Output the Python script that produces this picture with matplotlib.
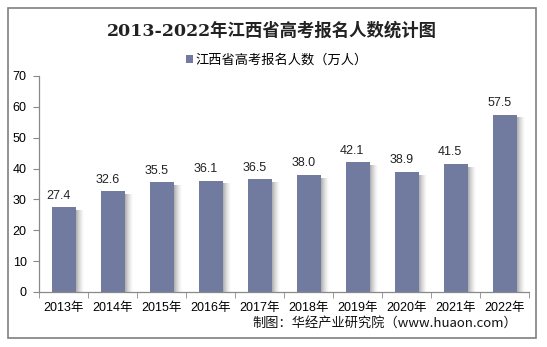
import matplotlib.pyplot as plt
import matplotlib.patches as mpatches
import numpy as np

plt.rcParams['font.family'] = ['Liberation Sans', 'Noto Sans CJK SC']

# 江西省高考报名人数（万人）
years = ['2013年', '2014年', '2015年', '2016年', '2017年',
         '2018年', '2019年', '2020年', '2021年', '2022年']
applicants = [27.4, 32.6, 35.5, 36.1, 36.5, 38.0, 42.1, 38.9, 41.5, 57.5]

bar_color = '#717ba0'
axis_color = '#898989'

fig = plt.figure(figsize=(5.47, 3.47), dpi=100)
ax = fig.add_axes([39.3 / 547, 1 - 292 / 347, 490 / 547, 216 / 347])

x = np.arange(len(years))
w = 0.49

# soft grey shadow on the right side of each bar
n_strips = 8
for k in range(n_strips):
    alpha = 0.45 * (1 - k / n_strips) ** 1.5
    ax.bar(x + w / 2 + (k + 0.5) * 0.021, np.array(applicants) - 0.9, width=0.021,
           color='#555555', alpha=alpha, linewidth=0, zorder=1)

ax.bar(x, applicants, width=w, color=bar_color, label='江西省高考报名人数（万人）', zorder=2)

for xi, v in zip(x, applicants):
    ax.annotate(f'{v:.1f}', (xi, v), xytext=(-4, 4), textcoords='offset points',
                ha='center', va='bottom', fontsize=9, color='#222222')

ax.set_xlim(-0.5, len(years) - 0.5)
ax.set_ylim(0, 70)
ax.set_yticks(range(0, 71, 10))
ax.set_xticks(x)
ax.set_xticklabels(years, fontsize=9)
ax.set_xticks(np.arange(-0.5, len(years)), minor=True)
ax.tick_params(axis='x', which='major', length=0, pad=7)
ax.tick_params(axis='x', which='minor', length=4, color=axis_color, direction='out')
ax.tick_params(axis='y', length=4, color=axis_color, labelsize=9, pad=5)

for side in ['top', 'right']:
    ax.spines[side].set_visible(False)
for side in ['left', 'bottom']:
    ax.spines[side].set_color(axis_color)
    ax.spines[side].set_linewidth(0.9)

fig.text(271.5 / 547, 1 - 31 / 347, '2013-2022年江西省高考报名人数统计图',
         ha='center', va='center', fontsize=12.5, fontweight='bold',
         family=['DejaVu Serif', 'Noto Sans CJK SC'], color='#222222')

ax.legend(loc='center', bbox_to_anchor=(277 / 547, 1 - 60 / 347),
          bbox_transform=fig.transFigure, frameon=False, fontsize=9.5,
          handlelength=0.55, handleheight=0.55, handletextpad=0.2,
          prop={'family': ['Noto Sans CJK SC'], 'size': 9.5})

fig.text(517 / 547, 1 - 323 / 347, '制图：华经产业研究院（www.huaon.com）',
         ha='right', va='center', fontsize=9.5,
         family=['Noto Sans CJK SC'], color='#111111')

# outer frame
fig.patches.append(mpatches.Rectangle((8 / 547, 1 - 338 / 347), 528 / 547, 330 / 347,
                                      transform=fig.transFigure, fill=False,
                                      edgecolor='#7f7f7f', linewidth=1.2))

fig.savefig('out.png', dpi=100)
